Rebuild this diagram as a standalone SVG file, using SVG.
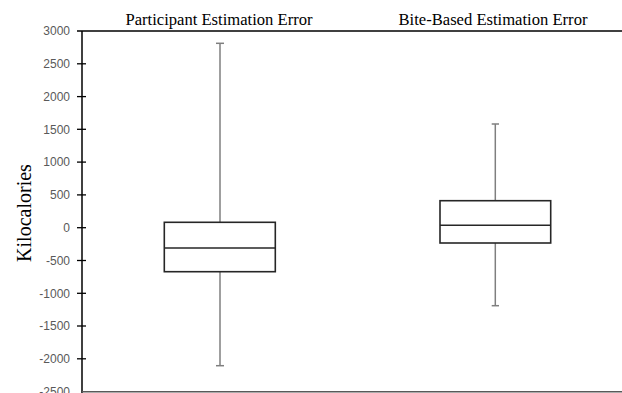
<svg xmlns="http://www.w3.org/2000/svg" width="622" height="393" viewBox="0 0 622 393">
<style>
.tick{font-family:"Liberation Sans",Arial,sans-serif;font-size:12px;fill:#595959;text-anchor:end}
.title{font-family:"Liberation Serif","Times New Roman",serif;font-size:16.6px;fill:#000;text-anchor:middle}
.ylab{font-family:"Liberation Serif","Times New Roman",serif;font-size:20px;fill:#000;text-anchor:middle}
.axis{stroke:#000;stroke-width:1.5;fill:none}
.tk{stroke:#000;stroke-width:1.3}
.box{stroke:#262626;stroke-width:1.6;fill:#fff}
.wh{stroke:#7f7f7f;stroke-width:1.5;fill:none}
</style>
<rect width="622" height="393" fill="#fff"/>
<g id="axis">
<line class="axis" x1="82" y1="31" x2="82" y2="393"/>
<line class="axis" x1="77" y1="31" x2="622" y2="31"/>
<line x1="82" y1="391.8" x2="622" y2="391.8" stroke="#595959" stroke-width="1.5"/>
<g class="tk">
<line x1="77" y1="63.8" x2="86" y2="63.8"/>
<line x1="77" y1="96.6" x2="86" y2="96.6"/>
<line x1="77" y1="129.3" x2="86" y2="129.3"/>
<line x1="77" y1="162.1" x2="86" y2="162.1"/>
<line x1="77" y1="194.9" x2="86" y2="194.9"/>
<line x1="77" y1="227.7" x2="86" y2="227.7"/>
<line x1="77" y1="260.5" x2="86" y2="260.5"/>
<line x1="77" y1="293.3" x2="86" y2="293.3"/>
<line x1="77" y1="326.0" x2="86" y2="326.0"/>
<line x1="77" y1="358.8" x2="86" y2="358.8"/>
</g>
<g class="tick">
<text x="70" y="35.2">3000</text>
<text x="70" y="68">2500</text>
<text x="70" y="100.8">2000</text>
<text x="70" y="133.5">1500</text>
<text x="70" y="166.3">1000</text>
<text x="70" y="199.1">500</text>
<text x="70" y="231.9">0</text>
<text x="70" y="264.7">-500</text>
<text x="70" y="297.5">-1000</text>
<text x="70" y="330.2">-1500</text>
<text x="70" y="363">-2000</text>
<text x="70" y="395.8">-2500</text>
</g>
<text class="ylab" transform="translate(31,213) rotate(-90)">Kilocalories</text>
</g>
<g id="participant">
<text class="title" x="219" y="24.5">Participant Estimation Error</text>
<line class="wh" x1="220" y1="43.3" x2="220" y2="365.7"/>
<line class="wh" x1="216" y1="43.3" x2="224" y2="43.3"/>
<line class="wh" x1="216" y1="365.7" x2="224" y2="365.7"/>
<rect class="box" x="164.3" y="222.3" width="111" height="49.4"/>
<line class="box" x1="164.3" y1="248" x2="275.3" y2="248"/>
</g>
<g id="bite-based">
<text class="title" x="493" y="24.5">Bite-Based Estimation Error</text>
<line class="wh" x1="495.3" y1="124" x2="495.3" y2="305.7"/>
<line class="wh" x1="491.7" y1="124" x2="499" y2="124"/>
<line class="wh" x1="491.7" y1="305.7" x2="499" y2="305.7"/>
<rect class="box" x="440" y="200.7" width="110.7" height="42.3"/>
<line class="box" x1="440" y1="225.3" x2="550.7" y2="225.3"/>
</g>
</svg>
